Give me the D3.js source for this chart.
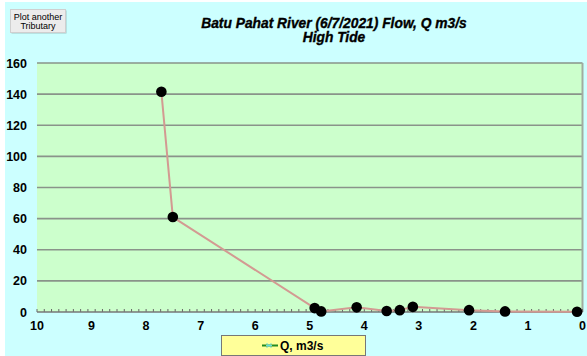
<!DOCTYPE html>
<html><head><meta charset="utf-8">
<script src="https://cdn.jsdelivr.net/npm/d3@7/dist/d3.min.js"></script>
<style>body{margin:0;background:#fff;}svg{display:block;font-family:"Liberation Sans",Arial,sans-serif;}</style>
</head><body><svg id="c" width="587" height="356"></svg>
<script>
const distance = [7.72, 7.51, 4.91, 4.79, 4.14, 3.59, 3.35, 3.11, 2.08, 1.42, 0.10];
const flowQ    = [141.5, 61, 2.5, 0.4, 3, 0.6, 1.2, 3.3, 1.2, 0.4, 0.2];
const yTicks = [0, 20, 40, 60, 80, 100, 120, 140, 160];
const xTicks = [10, 9, 8, 7, 6, 5, 4, 3, 2, 1, 0];
const titleLines = ["Batu Pahat River (6/7/2021) Flow, Q m3/s", "High Tide"];
const seriesName = "Q, m3/s";

const svg = d3.select("#c");
svg.append("rect").attr("x",5).attr("y",2).attr("width",582).attr("height",354).attr("fill","#ccffff");

const L=37, R=582.5, T=63, B=312;
const x = d3.scaleLinear().domain([10,0]).range([L,R]);
const y = d3.scaleLinear().domain([0,160]).range([B,T]);

svg.append("rect").attr("x",L).attr("y",T).attr("width",R-L).attr("height",B-T).attr("fill","#ccffcc");

// gridlines
svg.append("g").selectAll("line").data(yTicks.filter(d=>d>0)).join("line")
  .attr("x1",L).attr("x2",R).attr("y1",d=>y(d)).attr("y2",d=>y(d))
  .attr("stroke","#8a938a").attr("stroke-width",1.6);
// right border
svg.append("line").attr("x1",R).attr("x2",R).attr("y1",T).attr("y2",B).attr("stroke","#a0aca0").attr("stroke-width",2);

// x axis minor ticks
const minor = d3.range(0,10.0001,1/7.5);
svg.append("g").selectAll("line").data(minor).join("line")
  .attr("x1",d=>x(d)).attr("x2",d=>x(d)).attr("y1",B).attr("y2",B-3)
  .attr("stroke","#666").attr("stroke-width",1);
svg.append("line").attr("x1",L).attr("x2",R).attr("y1",B).attr("y2",B).attr("stroke","#777").attr("stroke-width",1.5);

// y labels
svg.append("g").selectAll("text").data(yTicks).join("text")
  .attr("x",27).attr("y",d=>y(d)+4.5).attr("text-anchor","end")
  .attr("font-size",12.5).attr("font-weight","bold").text(d=>d);
// x labels
svg.append("g").selectAll("text").data(xTicks).join("text")
  .attr("x",d=>x(d)).attr("y",330).attr("text-anchor","middle")
  .attr("font-size",12.5).attr("font-weight","bold").text(d=>d);

// series
const pts = distance.map((d,i)=>[d,flowQ[i]]);
svg.append("path").datum(pts)
  .attr("d",d3.line().x(d=>x(d[0])).y(d=>y(d[1])))
  .attr("fill","none").attr("stroke","#d39a92").attr("stroke-width",2);
svg.append("g").selectAll("circle").data(pts).join("circle")
  .attr("cx",d=>x(d[0])).attr("cy",d=>y(d[1])).attr("r",5.3).attr("fill","#000");

// title
svg.append("g").selectAll("text").data(titleLines).join("text")
  .attr("x",334).attr("y",(d,i)=>28+i*14).attr("text-anchor","middle")
  .attr("font-size",13.8).attr("font-weight","bold").attr("font-style","italic")
  .attr("stroke","#000").attr("stroke-width",0.35).text(d=>d);

// button
svg.append("rect").attr("x",11.5).attr("y",10.5).attr("width",55).attr("height",23).attr("fill","#555").attr("opacity",0.35);
svg.append("rect").attr("x",10.5).attr("y",9.5).attr("width",55).attr("height",23).attr("fill","#ececec").attr("stroke","#cfcfcf");
svg.append("text").attr("x",38).attr("y",19.5).attr("text-anchor","middle").attr("font-size",9).text("Plot another");
svg.append("text").attr("x",38).attr("y",29).attr("text-anchor","middle").attr("font-size",9).text("Tributary");

// legend
svg.append("rect").attr("x",221.5).attr("y",335.5).attr("width",144).attr("height",20).attr("fill","#ffff99").attr("stroke","#777");
svg.append("line").attr("x1",262).attr("x2",278).attr("y1",345.5).attr("y2",345.5).attr("stroke","#228b22").attr("stroke-width",2);
svg.append("path").attr("d",d3.symbol(d3.symbolTimes,18)()).attr("transform","translate(269,345.5)").attr("stroke","#66dddd").attr("stroke-width",1).attr("fill","none");
svg.append("path").attr("d","M-3,0H3").attr("transform","translate(269,345.5)").attr("stroke","#66dddd").attr("stroke-width",1);
svg.append("text").attr("x",280).attr("y",350).attr("font-size",12).attr("font-weight","bold").text(seriesName);
</script></body></html>
